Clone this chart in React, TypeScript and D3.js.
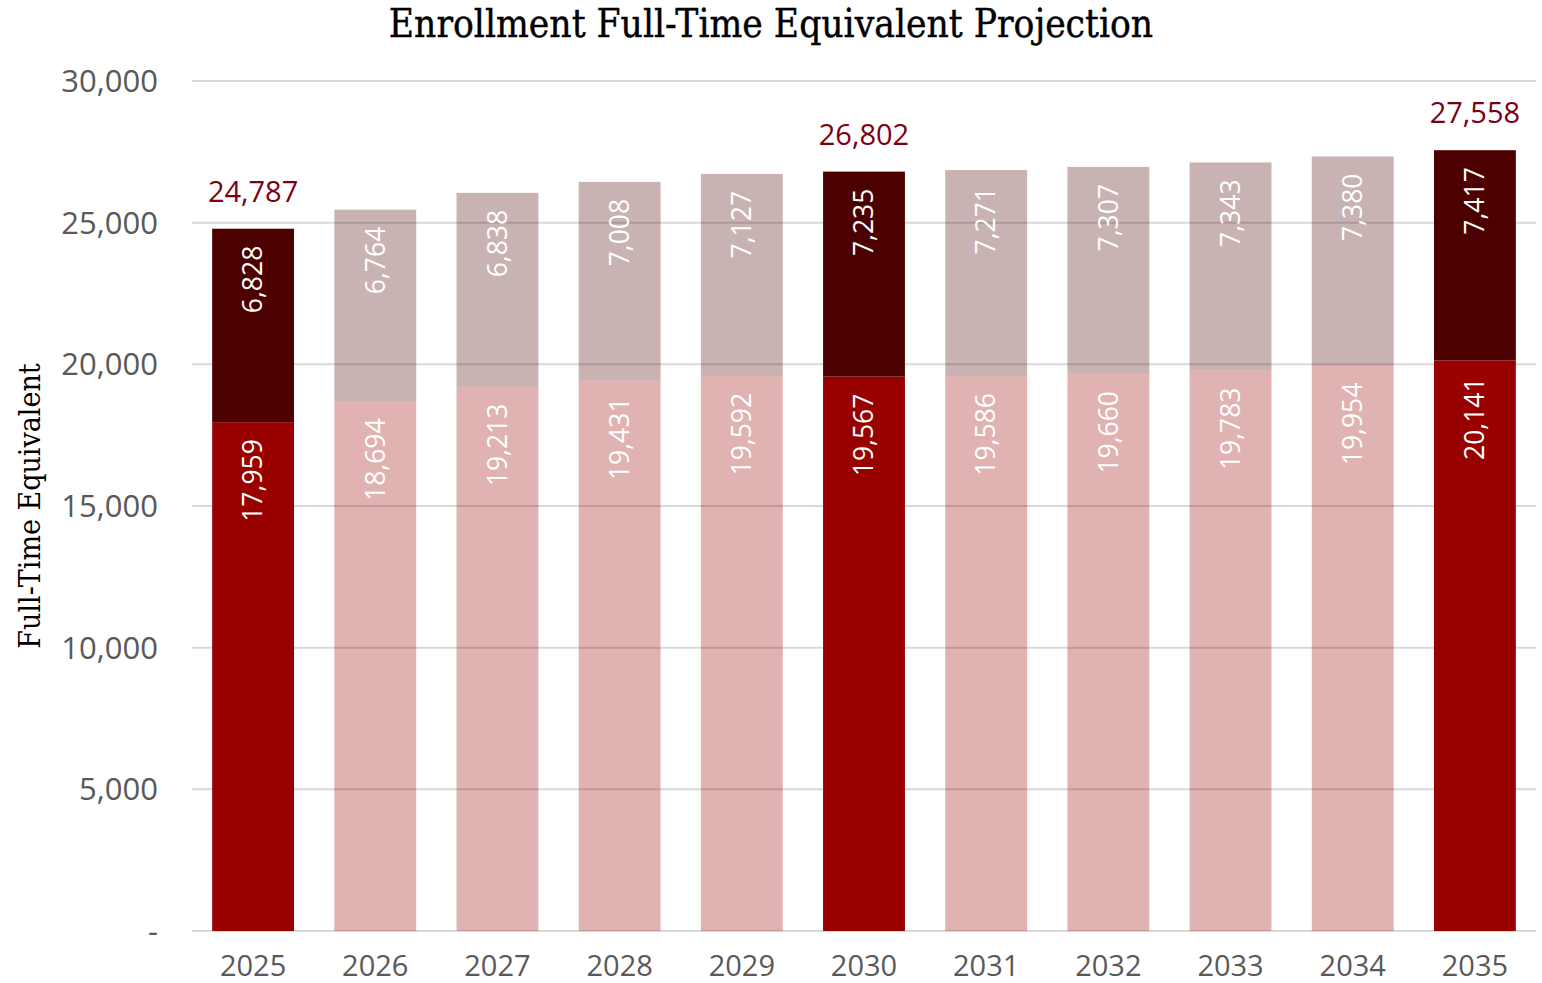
import React from 'react';
import * as d3 from 'd3';

const years = ['2025', '2026', '2027', '2028', '2029', '2030', '2031', '2032', '2033', '2034', '2035'];
const baseValues = [17959, 18694, 19213, 19431, 19592, 19567, 19586, 19660, 19783, 19954, 20141];
const topValues = [6828, 6764, 6838, 7008, 7127, 7235, 7271, 7307, 7343, 7380, 7417];
const highlighted = ['2025', '2030', '2035'];
const yTicks = [0, 5000, 10000, 15000, 20000, 25000, 30000];

const width = 1542;
const height = 983;
const margin = { top: 81, right: 6, bottom: 52, left: 192 };

const sans = "'Open Sans', 'Noto Sans', sans-serif";
const serif = "'DejaVu Serif', serif";

const fmt = d3.format(',');

export default function App() {
  const x = d3.scaleBand<string>()
    .domain(years)
    .range([margin.left, width - margin.right])
    .paddingInner(0.33)
    .paddingOuter(0.165);

  const y = d3.scaleLinear()
    .domain([0, 30000])
    .range([height - margin.bottom, margin.top]);

  const bw = x.bandwidth();

  return (
    <svg width={width} height={height} style={{ position: 'absolute', left: 0, top: 0, background: '#fff' }}>
      {/* Title */}
      <text x={771} y={37} textAnchor="middle" fontFamily={serif} fontSize={38.5}
        fill="#000" stroke="#000" strokeWidth={0.4} style={{ fontStretch: 'condensed' }}>
        Enrollment Full-Time Equivalent Projection
      </text>

      {/* Y axis label */}
      <text transform={`translate(40,${506}) rotate(-90)`} textAnchor="middle"
        fontFamily={serif} fontSize={30} fill="#000" style={{ fontStretch: 'condensed' }}>
        Full-Time Equivalent
      </text>

      {/* Grid + y ticks */}
      {yTicks.map(t => (
        <g key={t}>
          <line x1={margin.left} x2={width - margin.right} y1={y(t)} y2={y(t)}
            stroke="#D9D9D9" strokeWidth={2} />
          <text x={158} y={y(t)} dy="0.36em" textAnchor="end" fontFamily={sans}
            fontSize={31} fill="#595959">
            {t === 0 ? '-' : fmt(t)}
          </text>
        </g>
      ))}

      {/* Bars */}
      {years.map((yr, i) => {
        const hl = highlighted.includes(yr);
        const op = hl ? 1 : 0.3;
        const x0 = x(yr) as number;
        const cx = x0 + bw / 2;
        const b = baseValues[i];
        const t = topValues[i];
        const total = b + t;
        return (
          <g key={yr}>
            <rect x={x0} width={bw} y={y(b)} height={y(0) - y(b)} fill="#990000" fillOpacity={op} />
            <rect x={x0} width={bw} y={y(total)} height={y(b) - y(total)} fill="#4D0000" fillOpacity={op} />
            <text transform={`translate(${cx},${y(b) + 17}) rotate(-90)`} textAnchor="end"
              dy="0.35em" fontFamily={sans} fontSize={26.5} fill="#fff">
              {fmt(b)}
            </text>
            <text transform={`translate(${cx},${y(total) + 17}) rotate(-90)`} textAnchor="end"
              dy="0.35em" fontFamily={sans} fontSize={26.5} fill="#fff">
              {fmt(t)}
            </text>
            {hl && (
              <text x={cx} y={y(total) - 27} textAnchor="middle" fontFamily={sans}
                fontSize={29} fill="#7B0012">
                {fmt(total)}
              </text>
            )}
            <text x={cx} y={976} textAnchor="middle" fontFamily={sans} fontSize={29} fill="#595959">
              {yr}
            </text>
          </g>
        );
      })}
    </svg>
  );
}
